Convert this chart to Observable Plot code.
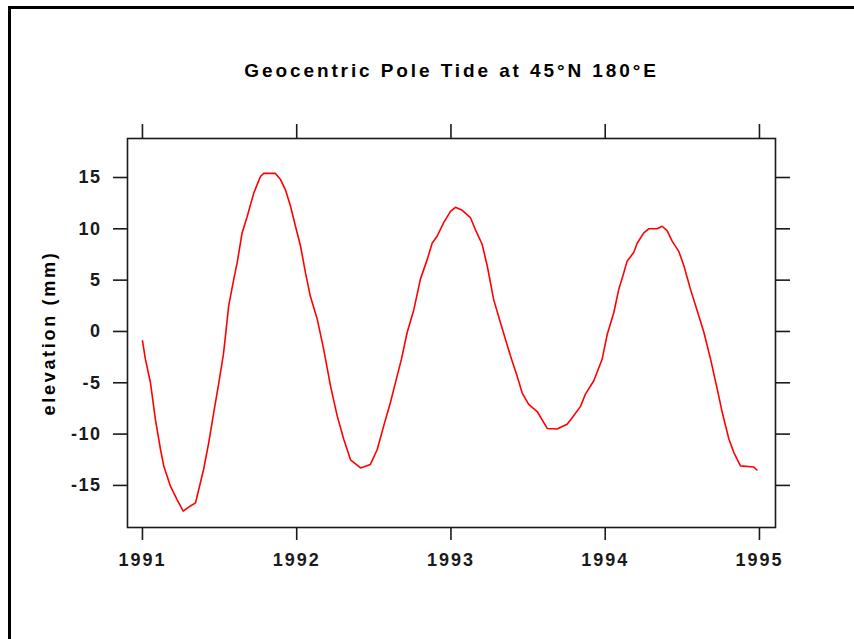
<!DOCTYPE html>
<html>
<head>
<meta charset="utf-8">
<script src="https://cdn.jsdelivr.net/npm/d3@7"></script>
<script src="https://cdn.jsdelivr.net/npm/@observablehq/plot@0.6"></script>
<style>
  html, body { margin: 0; padding: 0; background: #fff; }
  #wrap { position: relative; width: 854px; height: 639px; overflow: hidden; }
  #border { position: absolute; left: 8px; top: 6px; width: 900px; height: 700px;
            border-top: 3px solid #000; border-left: 3px solid #000; pointer-events: none; }
  #chart { position: absolute; left: 0; top: 0; }
  g[aria-label="x-axis tick label"] text { letter-spacing: 2px; }
  g[aria-label="y-axis tick label"] text { letter-spacing: 1.5px; }
</style>
</head>
<body>
<div id="wrap"><div id="border"></div><div id="chart"></div></div>
<script>
const titleText = "Geocentric Pole Tide at 45°N 180°E";
const yLabelText = "elevation (mm)";
const xTicks = [1991, 1992, 1993, 1994, 1995];
const yTicks = [-15, -10, -5, 0, 5, 10, 15];

// decimal year
const years = [
  1991.000, 1991.019, 1991.052, 1991.084, 1991.117, 1991.138, 1991.182, 1991.225, 1991.264, 1991.311,
  1991.344, 1991.365, 1991.397, 1991.430, 1991.462, 1991.495, 1991.525, 1991.538, 1991.559, 1991.592,
  1991.614, 1991.646, 1991.679, 1991.722, 1991.765, 1991.786, 1991.862, 1991.895, 1991.927, 1991.960,
  1991.992, 1992.025, 1992.057, 1992.089, 1992.133, 1992.175, 1992.219, 1992.262, 1992.305, 1992.349,
  1992.414, 1992.478, 1992.522, 1992.564, 1992.608, 1992.651, 1992.679, 1992.716, 1992.759, 1992.802,
  1992.846, 1992.878, 1992.911, 1992.953, 1992.997, 1993.029, 1993.073, 1993.126, 1993.159, 1993.202,
  1993.235, 1993.277, 1993.321, 1993.386, 1993.429, 1993.462, 1993.504, 1993.559, 1993.624, 1993.688,
  1993.753, 1993.786, 1993.840, 1993.872, 1993.926, 1993.980, 1994.013, 1994.055, 1994.088, 1994.120,
  1994.142, 1994.185, 1994.207, 1994.250, 1994.282, 1994.337, 1994.369, 1994.402, 1994.434, 1994.477,
  1994.510, 1994.553, 1994.607, 1994.640, 1994.683, 1994.726, 1994.759, 1994.802, 1994.834, 1994.877,
  1994.962, 1994.983
];
// elevation (mm)
const elevation = [
  -0.9, -2.7, -5.0, -8.6, -11.5, -13.1, -15.1, -16.4, -17.5, -17.0,
  -16.7, -15.4, -13.4, -10.8, -7.9, -5.0, -2.2, -0.45, 2.5, 5.1,
  6.7, 9.6, 11.2, 13.5, 15.1, 15.4, 15.4, 14.8, 13.8, 12.2,
  10.25, 8.3, 5.7, 3.4, 1.2, -1.75, -5.3, -8.2, -10.5, -12.5,
  -13.3, -12.95, -11.5, -9.2, -6.9, -4.35, -2.7, -0.1, 2.1, 5.1,
  7.0, 8.6, 9.3, 10.6, 11.7, 12.1, 11.8, 11.1, 9.9, 8.5,
  6.4, 3.1, 0.85, -2.4, -4.35, -6.0, -7.1, -7.8, -9.45, -9.5,
  -9.05, -8.4, -7.3, -6.1, -4.8, -2.7, -0.3, 1.8, 4.1, 5.7,
  6.85, 7.7, 8.6, 9.6, 10.0, 10.0, 10.25, 9.8, 8.8, 7.8,
  6.4, 4.1, 1.5, -0.1, -2.7, -5.6, -7.9, -10.5, -11.8, -13.1,
  -13.2, -13.5
];

const data = years.map((t, i) => ({t, v: elevation[i]}));

const chart = Plot.plot({
  width: 854,
  height: 639,
  marginLeft: 127,
  marginRight: 79,
  marginTop: 138,
  marginBottom: 112,
  x: {domain: [1990.903, 1995.104]},
  y: {domain: [-19.1, 18.8]},
  style: {fontFamily: "'Liberation Sans', Arial, sans-serif", fontWeight: "bold", fontSize: "18px", color: "#1a1a1a", background: "transparent", overflow: "visible"},
  marks: [
    Plot.line(data, {x: "t", y: "v", stroke: "#ff0000", strokeWidth: 1.6}),
    Plot.frame({stroke: "#1a1a1a", strokeWidth: 1.6}),
    Plot.axisX(xTicks, {anchor: "bottom", tickSize: 13, tickPadding: 13, tickFormat: d => String(d), label: null, fontSize: 18, strokeWidth: 1.6}),
    Plot.axisX(xTicks, {anchor: "top", tickSize: 15, tickFormat: () => "", label: null, strokeWidth: 1.6}),
    Plot.axisY(yTicks, {anchor: "left", tickSize: 14, tickPadding: 12, tickFormat: d => String(d), label: null, fontSize: 18, strokeWidth: 1.6}),
    Plot.axisY(yTicks, {anchor: "right", tickSize: 14, tickFormat: () => "", label: null, strokeWidth: 1.6}),
    Plot.text([titleText], {frameAnchor: "top", dy: -62, lineAnchor: "bottom", textAnchor: "middle", fontSize: 19, fontWeight: "bold", fill: "#000"}),
    Plot.text([yLabelText], {frameAnchor: "left", dx: -78, rotate: -90, textAnchor: "middle", fontSize: 18, fontWeight: "bold", fill: "#000"})
  ]
});
d3.select(chart).selectAll("text")
  .filter(function() { return this.textContent === titleText; })
  .style("letter-spacing", "2.9px");
d3.select(chart).selectAll("text")
  .filter(function() { return this.textContent === yLabelText; })
  .style("letter-spacing", "2.7px");
document.getElementById("chart").appendChild(chart);
</script>
</body>
</html>
